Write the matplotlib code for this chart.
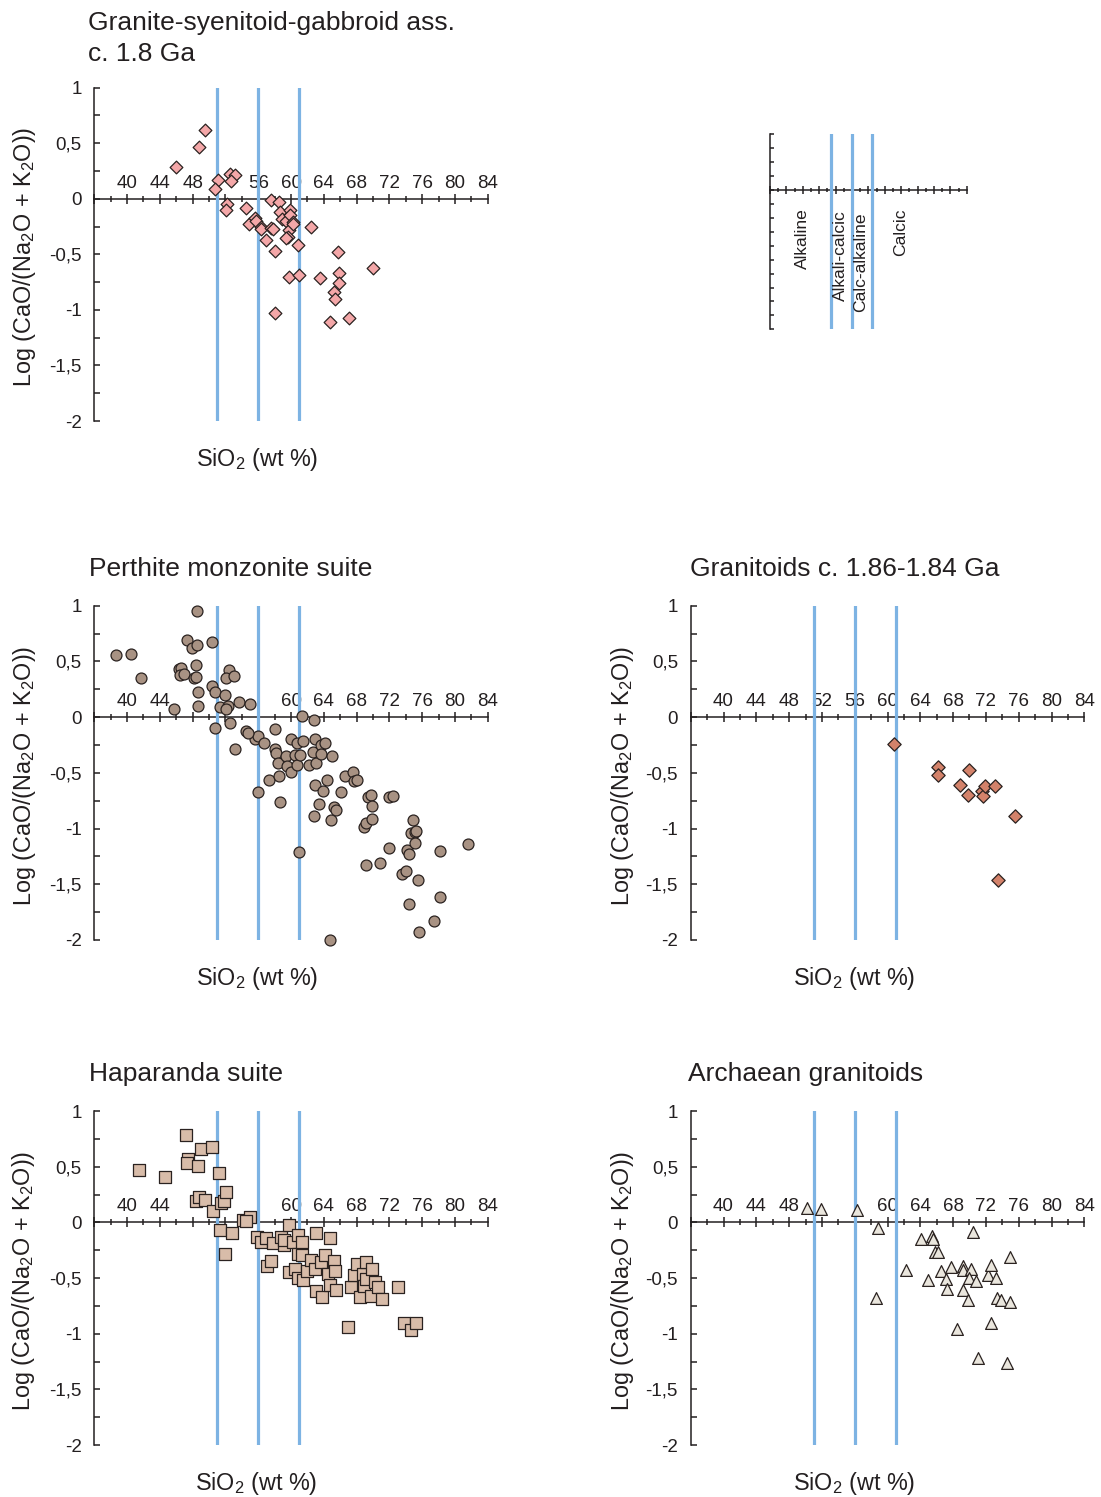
import numpy as np
import matplotlib
matplotlib.use('Agg')
import matplotlib.pyplot as plt

plt.rcParams['font.family'] = ['Liberation Sans', 'DejaVu Sans']
plt.rcParams['mathtext.fontset'] = 'custom'
plt.rcParams['mathtext.rm'] = 'Liberation Sans'
plt.rcParams['mathtext.it'] = 'Liberation Sans:italic'
plt.rcParams['mathtext.bf'] = 'Liberation Sans:bold'

W, H = 1101, 1497
INK = '#231f20'
BLUE = '#7db3e3'

# alkali-lime boundaries (Peacock index, wt % SiO2)
bounds = [51, 56, 61]
field_names = ['Alkaline', 'Alkali-calcic', 'Calc-alkaline', 'Calcic']

# Granite-syenitoid-gabbroid ass. c. 1.8 Ga
granite_sio2 = [49.5, 48.8, 46.0, 51.1, 50.7, 52.6, 53.2, 52.7, 52.2, 52.1,
                54.5, 54.9, 55.6, 55.7, 56.3, 56.4, 57.0, 57.5, 58.5, 57.6,
                58.0, 58.7, 58.9, 59.4, 59.9, 59.9, 60.3, 59.8, 59.6, 59.4,
                60.8, 62.5, 59.8, 61.0, 63.5, 58.1, 65.7, 65.8, 65.8, 65.2,
                65.4, 64.7, 67.1, 70.0, 60.2, 57.8]
granite_log = [0.62, 0.47, 0.29, 0.17, 0.09, 0.22, 0.21, 0.16, -0.05, -0.10,
               -0.08, -0.23, -0.17, -0.20, -0.25, -0.27, -0.37, -0.01, -0.03, -0.26,
               -0.47, -0.12, -0.18, -0.20, -0.10, -0.15, -0.21, -0.28, -0.34, -0.35,
               -0.42, -0.25, -0.70, -0.69, -0.71, -1.03, -0.48, -0.67, -0.76, -0.84,
               -0.90, -1.11, -1.07, -0.62, -0.23, -0.27]

# Perthite monzonite suite
perthite_sio2 = [38.7, 40.5, 41.7, 45.7, 46.3, 46.6, 46.4, 46.9, 47.3, 47.9,
                 48.5, 48.5, 48.4, 48.2, 48.4, 48.6, 48.6, 50.4, 50.4, 50.7,
                 50.7, 51.3, 52.4, 52.1, 53.0, 51.9, 52.3, 52.1, 52.6, 53.7,
                 55.0, 53.2, 54.5, 55.6, 56.0, 56.7, 56.0, 57.3, 58.1, 58.0,
                 58.2, 58.4, 58.5, 58.7, 59.4, 59.5, 60.0, 60.0, 60.5, 60.7,
                 60.7, 61.1, 61.5, 61.4, 61.0, 62.2, 62.8, 62.9, 62.7, 63.1,
                 62.9, 62.8, 63.4, 63.7, 64.1, 63.7, 64.4, 63.9, 65.0, 64.9,
                 65.3, 65.5, 64.7, 66.1, 66.6, 67.6, 67.7, 68.1, 68.9, 69.1,
                 69.2, 69.4, 69.8, 69.9, 69.9, 70.8, 71.9, 72.5, 71.9, 73.5,
                 74.0, 74.1, 74.4, 74.4, 74.9, 74.7, 75.1, 75.3, 75.1, 75.5,
                 75.6, 77.4, 78.2, 78.2, 81.6, 54.7]
perthite_log = [0.56, 0.57, 0.35, 0.07, 0.43, 0.44, 0.38, 0.39, 0.69, 0.62,
                0.65, 0.95, 0.47, 0.35, 0.36, 0.23, 0.10, 0.67, 0.28, 0.23,
                -0.10, 0.09, 0.42, 0.35, 0.37, 0.20, 0.10, 0.07, -0.05, 0.14,
                0.12, -0.29, -0.12, -0.20, -0.17, -0.23, -0.67, -0.56, -0.11, -0.29,
                -0.32, -0.41, -0.53, -0.76, -0.35, -0.44, -0.20, -0.49, -0.34, -0.23,
                -0.43, -0.34, -0.21, 0.01, -1.21, -0.43, -0.03, -0.20, -0.31, -0.41,
                -0.61, -0.89, -0.78, -0.25, -0.23, -0.33, -0.56, -0.66, -0.35, -0.92,
                -0.81, -0.83, -2.00, -0.67, -0.53, -0.49, -0.57, -0.56, -0.99, -0.95,
                -1.33, -0.72, -0.70, -0.80, -0.91, -1.31, -0.72, -0.71, -1.17, -1.41,
                -1.38, -1.19, -1.23, -1.68, -0.92, -1.04, -1.03, -1.02, -1.13, -1.46,
                -1.93, -1.83, -1.20, -1.61, -1.14, -0.14]

# Granitoids c. 1.86-1.84 Ga
gran186_sio2 = [60.8, 66.1, 66.1, 68.9, 69.9, 69.8, 71.5, 71.7, 71.9, 73.1,
                75.5, 73.5]
gran186_log = [-0.24, -0.45, -0.52, -0.61, -0.47, -0.70, -0.66, -0.71, -0.62, -0.62,
               -0.89, -1.46]

# Haparanda suite
haparanda_sio2 = [41.5, 44.6, 47.2, 47.4, 47.3, 48.6, 49.0, 50.4, 51.2, 48.4,
                  48.8, 49.5, 50.5, 51.5, 51.8, 52.1, 51.3, 52.8, 52.0, 54.2,
                  55.0, 54.5, 55.9, 56.4, 56.9, 57.1, 57.5, 57.8, 58.8, 59.1,
                  59.2, 59.8, 59.8, 60.3, 60.5, 60.8, 60.9, 61.3, 61.4, 60.9,
                  61.5, 61.9, 62.4, 63.0, 62.9, 63.1, 63.8, 63.6, 64.2, 64.7,
                  64.5, 64.8, 65.3, 65.4, 65.5, 67.0, 67.3, 67.7, 68.0, 68.4,
                  68.8, 68.9, 69.1, 69.1, 69.9, 69.8, 70.2, 70.6, 71.1, 73.0,
                  73.8, 74.6, 75.3]
haparanda_log = [0.47, 0.41, 0.78, 0.57, 0.53, 0.51, 0.66, 0.68, 0.44, 0.19,
                 0.23, 0.20, 0.10, 0.17, 0.19, 0.27, -0.07, -0.10, -0.28, 0.02,
                 0.05, 0.01, -0.13, -0.18, -0.14, -0.39, -0.35, -0.19, -0.13, -0.20,
                 -0.16, -0.02, -0.45, -0.18, -0.42, -0.11, -0.28, -0.18, -0.29, -0.50,
                 -0.52, -0.44, -0.34, -0.10, -0.42, -0.62, -0.67, -0.36, -0.29, -0.14,
                 -0.46, -0.56, -0.35, -0.44, -0.61, -0.94, -0.58, -0.47, -0.37, -0.67,
                 -0.46, -0.57, -0.36, -0.51, -0.42, -0.66, -0.54, -0.58, -0.69, -0.58,
                 -0.90, -0.97, -0.90]

# Archaean granitoids
archaean_sio2 = [50.2, 51.9, 56.3, 58.8, 58.6, 62.3, 64.1, 65.4, 65.6, 64.9,
                 65.8, 66.2, 66.5, 67.1, 67.3, 67.8, 68.5, 69.2, 69.2, 69.2,
                 69.8, 70.2, 70.0, 70.4, 70.8, 71.0, 72.3, 72.6, 72.6, 73.2,
                 73.4, 73.8, 74.9, 75.0, 74.6]
archaean_log = [0.13, 0.12, 0.11, -0.05, -0.68, -0.43, -0.15, -0.12, -0.15, -0.52,
                -0.27, -0.27, -0.44, -0.51, -0.60, -0.40, -0.96, -0.39, -0.43, -0.61,
                -0.70, -0.42, -0.50, -0.09, -0.53, -1.22, -0.47, -0.38, -0.90, -0.50,
                -0.68, -0.70, -0.31, -0.72, -1.26]

x_major = np.arange(36, 85, 4)
x_minor = np.arange(38, 84, 4)
y_major = [-2, -1.5, -1, -0.5, 0, 0.5, 1]
y_labels = ['-2', '-1,5', '-1', '-0,5', '0', '0,5', '1']
y_minor = np.arange(-2, 1.01, 0.25)

ylab = r'Log (CaO/(Na$_\mathregular{2}$O + K$_\mathregular{2}$O))'
xlab = r'SiO$_\mathregular{2}$ (wt %)'

fig = plt.figure(figsize=(W / 100, H / 100), dpi=100)


def add_box(left, top, right, bottom):
    return fig.add_axes([left / W, 1 - bottom / H, (right - left) / W, (bottom - top) / H])


def style_axes(ax, ylim, tick_scale=1.0):
    ax.set_xlim(36, 84)
    ax.set_ylim(*ylim)
    ax.patch.set_visible(False)
    ax.spines['right'].set_visible(False)
    ax.spines['bottom'].set_visible(False)
    ax.spines['top'].set_position(('data', 0))
    for s in ('left', 'top'):
        ax.spines[s].set_color(INK)
        ax.spines[s].set_linewidth(1.1)
        ax.spines[s].set_zorder(2.5)
    ax.xaxis.tick_top()
    ax.set_xticks(x_major)
    ax.set_xticks(x_minor, minor=True)
    ax.tick_params(axis='x', which='major', direction='inout', length=7.8 * tick_scale,
                   width=1.1, color=INK, pad=1.2, labelsize=13.5, labelcolor=INK)
    ax.tick_params(axis='x', which='minor', direction='inout', length=4.8 * tick_scale,
                   width=1.1, color=INK)
    ax.tick_params(axis='y', which='both', direction='in', length=4.0 * tick_scale,
                   width=1.1, color=INK, pad=9.2, labelsize=13.5, labelcolor=INK)
    for b in bounds:
        ax.axvline(b, color=BLUE, lw=2.3, zorder=3)


def panel(box, xs, ys, marker, face, size, hidden, title, title_xy, ylab_x, xlab_x):
    ax = add_box(*box)
    style_axes(ax, (-2, 1))
    labels = ['' if (v == 36 or v in hidden) else str(v) for v in x_major]
    ax.set_xticklabels(labels)
    ax.set_yticks(y_major, labels=y_labels)
    ax.set_yticks(y_minor, minor=True)
    ax.scatter(xs, ys, marker=marker, s=size, c=face, edgecolors='#2a2220',
               linewidths=0.9, zorder=4, clip_on=False)
    tx, ty = title_xy
    for i, line in enumerate(title):
        fig.text(tx / W, 1 - (ty + 31 * i) / H, line, fontsize=19, color=INK,
                 ha='left', va='baseline')
    top, bottom = box[1], box[3]
    fig.text(ylab_x / W, 1 - ((top + bottom) / 2 + 3) / H, ylab, rotation=90,
             fontsize=16.8, color=INK, ha='center', va='center')
    fig.text(xlab_x / W, 1 - (bottom + 45) / H, xlab, fontsize=16.8, color=INK,
             ha='center', va='baseline')
    return ax


panel((94.3, 87.7, 487.7, 421), granite_sio2, granite_log, 'D', '#f4a7a8', 42,
      [52], ['Granite-syenitoid-gabbroid ass.', 'c. 1.8 Ga'], (88, 30), 25, 257.5)
panel((94.3, 605.7, 487.7, 940), perthite_sio2, perthite_log, 'o', '#a89283', 62,
      [48, 52, 56], ['Perthite monzonite suite'], (89, 576), 25, 257.5)
panel((690.7, 605.7, 1084.3, 940), gran186_sio2, gran186_log, 'D', '#d3826a', 46,
      [], ['Granitoids c. 1.86-1.84 Ga'], (690, 576), 622, 854)
panel((94.3, 1111, 487.7, 1445), haparanda_sio2, haparanda_log, 's', '#d8bca9', 66,
      [48, 52, 56], ['Haparanda suite'], (89, 1081), 24, 256)
panel((690.7, 1111, 1084.3, 1445), archaean_sio2, archaean_log, '^', '#eae6dd', 72,
      [52, 56], ['Archaean granitoids'], (688, 1081), 622, 854)

# key diagram with the field names
key = add_box(770, 134.3, 966.7, 329.3)
style_axes(key, (-2.5, 1), tick_scale=0.75)
key.set_xticklabels([])
key.set_yticks(np.arange(-2.5, 1.01, 0.25))
key.set_yticklabels([])
key_x = [802, 840.5, 860.5, 900.5]
key_top = [208, 210, 212, 208]
for name, kx, kt in zip(field_names, key_x, key_top):
    fig.text(kx / W, 1 - kt / H, name, rotation=90, fontsize=12.6, color=INK,
             ha='center', va='top')

fig.savefig('out.png', dpi=100)
